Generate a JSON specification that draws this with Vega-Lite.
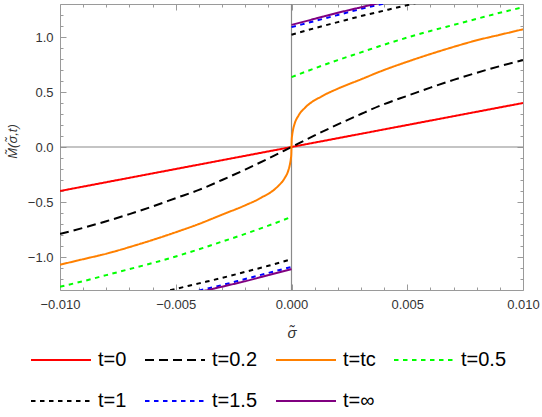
{
  "$schema": "https://vega.github.io/schema/vega-lite/v6.json",
  "width": 463,
  "height": 286,
  "autosize": {"type": "none"},
  "padding": {"left": 60, "top": 4, "right": 19, "bottom": 127},
  "config": {
    "font": "Liberation Sans",
    "view": {"stroke": null},
    "axis": {
      "grid": false,
      "domainColor": "#9a9a9a",
      "tickColor": "#9a9a9a",
      "labelColor": "#333333",
      "labelFontSize": 13,
      "labelFlush": false,
      "labelOverlap": false,
      "titleFontWeight": "normal",
      "titleColor": "#333333"
    }
  },
  "datasets": {
    "zero": [{"v": 0}],
    "curves": [
      {"t": "t=0", "b": "a", "x": -0.01, "y": -0.4},
      {"t": "t=0", "b": "a", "x": -0.005, "y": -0.2},
      {"t": "t=0", "b": "a", "x": 0, "y": 0},
      {"t": "t=0", "b": "a", "x": 0.005, "y": 0.2},
      {"t": "t=0", "b": "a", "x": 0.01, "y": 0.4},

      {"t": "t=0.2", "b": "a", "x": -0.01, "y": -0.79},
      {"t": "t=0.2", "b": "a", "x": -0.009, "y": -0.735},
      {"t": "t=0.2", "b": "a", "x": -0.008, "y": -0.675},
      {"t": "t=0.2", "b": "a", "x": -0.007, "y": -0.61},
      {"t": "t=0.2", "b": "a", "x": -0.006, "y": -0.54},
      {"t": "t=0.2", "b": "a", "x": -0.005, "y": -0.465},
      {"t": "t=0.2", "b": "a", "x": -0.004, "y": -0.39},
      {"t": "t=0.2", "b": "a", "x": -0.003, "y": -0.3},
      {"t": "t=0.2", "b": "a", "x": -0.002, "y": -0.205},
      {"t": "t=0.2", "b": "a", "x": -0.001, "y": -0.105},
      {"t": "t=0.2", "b": "a", "x": 0, "y": 0},
      {"t": "t=0.2", "b": "a", "x": 0.001, "y": 0.105},
      {"t": "t=0.2", "b": "a", "x": 0.002, "y": 0.205},
      {"t": "t=0.2", "b": "a", "x": 0.003, "y": 0.3},
      {"t": "t=0.2", "b": "a", "x": 0.004, "y": 0.39},
      {"t": "t=0.2", "b": "a", "x": 0.005, "y": 0.465},
      {"t": "t=0.2", "b": "a", "x": 0.006, "y": 0.54},
      {"t": "t=0.2", "b": "a", "x": 0.007, "y": 0.61},
      {"t": "t=0.2", "b": "a", "x": 0.008, "y": 0.675},
      {"t": "t=0.2", "b": "a", "x": 0.009, "y": 0.735},
      {"t": "t=0.2", "b": "a", "x": 0.01, "y": 0.79},

      {"t": "t=tc", "b": "a", "x": -0.01, "y": -1.07},
      {"t": "t=tc", "b": "a", "x": -0.009, "y": -1.02},
      {"t": "t=tc", "b": "a", "x": -0.008, "y": -0.97},
      {"t": "t=tc", "b": "a", "x": -0.007, "y": -0.91},
      {"t": "t=tc", "b": "a", "x": -0.006, "y": -0.845},
      {"t": "t=tc", "b": "a", "x": -0.005, "y": -0.775},
      {"t": "t=tc", "b": "a", "x": -0.004, "y": -0.7},
      {"t": "t=tc", "b": "a", "x": -0.003, "y": -0.615},
      {"t": "t=tc", "b": "a", "x": -0.002, "y": -0.53},
      {"t": "t=tc", "b": "a", "x": -0.0013, "y": -0.46},
      {"t": "t=tc", "b": "a", "x": -0.0006, "y": -0.36},
      {"t": "t=tc", "b": "a", "x": -0.0003, "y": -0.285},
      {"t": "t=tc", "b": "a", "x": -0.00014, "y": -0.215},
      {"t": "t=tc", "b": "a", "x": -0.00007, "y": -0.16},
      {"t": "t=tc", "b": "a", "x": -0.00003, "y": -0.11},
      {"t": "t=tc", "b": "a", "x": -0.00001, "y": -0.07},
      {"t": "t=tc", "b": "a", "x": 0, "y": 0},
      {"t": "t=tc", "b": "a", "x": 0.00001, "y": 0.07},
      {"t": "t=tc", "b": "a", "x": 0.00003, "y": 0.11},
      {"t": "t=tc", "b": "a", "x": 0.00007, "y": 0.16},
      {"t": "t=tc", "b": "a", "x": 0.00014, "y": 0.215},
      {"t": "t=tc", "b": "a", "x": 0.0003, "y": 0.285},
      {"t": "t=tc", "b": "a", "x": 0.0006, "y": 0.36},
      {"t": "t=tc", "b": "a", "x": 0.0013, "y": 0.46},
      {"t": "t=tc", "b": "a", "x": 0.002, "y": 0.53},
      {"t": "t=tc", "b": "a", "x": 0.003, "y": 0.615},
      {"t": "t=tc", "b": "a", "x": 0.004, "y": 0.7},
      {"t": "t=tc", "b": "a", "x": 0.005, "y": 0.775},
      {"t": "t=tc", "b": "a", "x": 0.006, "y": 0.845},
      {"t": "t=tc", "b": "a", "x": 0.007, "y": 0.91},
      {"t": "t=tc", "b": "a", "x": 0.008, "y": 0.97},
      {"t": "t=tc", "b": "a", "x": 0.009, "y": 1.02},
      {"t": "t=tc", "b": "a", "x": 0.01, "y": 1.07},

      {"t": "t=0.5", "b": "n", "x": -0.01, "y": -1.27},
      {"t": "t=0.5", "b": "n", "x": -0.009, "y": -1.22},
      {"t": "t=0.5", "b": "n", "x": -0.008, "y": -1.165},
      {"t": "t=0.5", "b": "n", "x": -0.007, "y": -1.11},
      {"t": "t=0.5", "b": "n", "x": -0.006, "y": -1.055},
      {"t": "t=0.5", "b": "n", "x": -0.005, "y": -0.995},
      {"t": "t=0.5", "b": "n", "x": -0.004, "y": -0.93},
      {"t": "t=0.5", "b": "n", "x": -0.003, "y": -0.86},
      {"t": "t=0.5", "b": "n", "x": -0.002, "y": -0.79},
      {"t": "t=0.5", "b": "n", "x": -0.001, "y": -0.715},
      {"t": "t=0.5", "b": "n", "x": 0, "y": -0.635},
      {"t": "t=0.5", "b": "p", "x": 0, "y": 0.635},
      {"t": "t=0.5", "b": "p", "x": 0.001, "y": 0.715},
      {"t": "t=0.5", "b": "p", "x": 0.002, "y": 0.79},
      {"t": "t=0.5", "b": "p", "x": 0.003, "y": 0.86},
      {"t": "t=0.5", "b": "p", "x": 0.004, "y": 0.93},
      {"t": "t=0.5", "b": "p", "x": 0.005, "y": 0.995},
      {"t": "t=0.5", "b": "p", "x": 0.006, "y": 1.055},
      {"t": "t=0.5", "b": "p", "x": 0.007, "y": 1.11},
      {"t": "t=0.5", "b": "p", "x": 0.008, "y": 1.165},
      {"t": "t=0.5", "b": "p", "x": 0.009, "y": 1.22},
      {"t": "t=0.5", "b": "p", "x": 0.01, "y": 1.27},

      {"t": "t=1", "b": "n", "x": -0.006, "y": -1.34},
      {"t": "t=1", "b": "n", "x": -0.005, "y": -1.29},
      {"t": "t=1", "b": "n", "x": -0.004, "y": -1.24},
      {"t": "t=1", "b": "n", "x": -0.003, "y": -1.19},
      {"t": "t=1", "b": "n", "x": -0.002, "y": -1.135},
      {"t": "t=1", "b": "n", "x": -0.001, "y": -1.08},
      {"t": "t=1", "b": "n", "x": 0, "y": -1.02},
      {"t": "t=1", "b": "p", "x": 0, "y": 1.02},
      {"t": "t=1", "b": "p", "x": 0.001, "y": 1.08},
      {"t": "t=1", "b": "p", "x": 0.002, "y": 1.135},
      {"t": "t=1", "b": "p", "x": 0.003, "y": 1.19},
      {"t": "t=1", "b": "p", "x": 0.004, "y": 1.24},
      {"t": "t=1", "b": "p", "x": 0.005, "y": 1.29},
      {"t": "t=1", "b": "p", "x": 0.006, "y": 1.34},

      {"t": "t=1.5", "b": "n", "x": -0.004, "y": -1.305},
      {"t": "t=1.5", "b": "n", "x": -0.003, "y": -1.255},
      {"t": "t=1.5", "b": "n", "x": -0.002, "y": -1.2},
      {"t": "t=1.5", "b": "n", "x": -0.001, "y": -1.145},
      {"t": "t=1.5", "b": "n", "x": 0, "y": -1.09},
      {"t": "t=1.5", "b": "p", "x": 0, "y": 1.09},
      {"t": "t=1.5", "b": "p", "x": 0.001, "y": 1.145},
      {"t": "t=1.5", "b": "p", "x": 0.002, "y": 1.2},
      {"t": "t=1.5", "b": "p", "x": 0.003, "y": 1.255},
      {"t": "t=1.5", "b": "p", "x": 0.004, "y": 1.305},

      {"t": "t=∞", "b": "n", "x": -0.004, "y": -1.32},
      {"t": "t=∞", "b": "n", "x": -0.003, "y": -1.27},
      {"t": "t=∞", "b": "n", "x": -0.002, "y": -1.22},
      {"t": "t=∞", "b": "n", "x": -0.001, "y": -1.165},
      {"t": "t=∞", "b": "n", "x": 0, "y": -1.11},
      {"t": "t=∞", "b": "p", "x": 0, "y": 1.11},
      {"t": "t=∞", "b": "p", "x": 0.001, "y": 1.165},
      {"t": "t=∞", "b": "p", "x": 0.002, "y": 1.22},
      {"t": "t=∞", "b": "p", "x": 0.003, "y": 1.27},
      {"t": "t=∞", "b": "p", "x": 0.004, "y": 1.32}
    ]
  },
  "layer": [
    {
      "data": {"name": "zero"},
      "mark": {"type": "rule", "color": "#8a8a8a", "strokeWidth": 1.2},
      "encoding": {
        "x": {
          "field": "v", "type": "quantitative",
          "scale": {"domain": [-0.01, 0.01], "nice": false, "zero": false},
          "axis": {"orient": "top", "title": null, "labels": false, "values": [-0.01, -0.005, 0, 0.005, 0.01], "tickSize": -6}
        }
      }
    },
    {
      "data": {"name": "zero"},
      "mark": {"type": "rule", "color": "#8a8a8a", "strokeWidth": 1.2},
      "encoding": {
        "y": {
          "field": "v", "type": "quantitative",
          "scale": {"domain": [-1.3, 1.3], "nice": false, "zero": false},
          "axis": {"orient": "right", "title": null, "labels": false, "values": [-1, -0.5, 0, 0.5, 1], "tickSize": -6}
        }
      }
    },
    {
      "data": {"name": "zero"},
      "mark": {"type": "point", "opacity": 0},
      "encoding": {
        "x": {
          "field": "v", "type": "quantitative",
          "scale": {"domain": [-0.01, 0.01], "nice": false, "zero": false},
          "axis": {"orient": "bottom", "title": null, "labels": false, "values": [-0.01, -0.005, 0, 0.005, 0.01], "tickSize": -6}
        },
        "y": {
          "field": "v", "type": "quantitative",
          "scale": {"domain": [-1.3, 1.3], "nice": false, "zero": false},
          "axis": {"orient": "left", "title": null, "labels": false, "values": [-1, -0.5, 0, 0.5, 1], "tickSize": -6}
        }
      }
    },
    {
      "data": {"name": "zero"},
      "mark": {"type": "point", "opacity": 0},
      "encoding": {
        "x": {
          "field": "v", "type": "quantitative",
          "scale": {"domain": [-0.01, 0.01], "nice": false, "zero": false},
          "axis": {"orient": "bottom", "title": null, "labels": false, "domain": false, "tickSize": -3,
            "values": [-0.009,-0.008,-0.007,-0.006,-0.004,-0.003,-0.002,-0.001,0.001,0.002,0.003,0.004,0.006,0.007,0.008,0.009]}
        },
        "y": {
          "field": "v", "type": "quantitative",
          "scale": {"domain": [-1.3, 1.3], "nice": false, "zero": false},
          "axis": {"orient": "left", "title": null, "labels": false, "domain": false, "tickSize": -3,
            "values": [-1.2,-1.1,-0.9,-0.8,-0.7,-0.6,-0.4,-0.3,-0.2,-0.1,0.1,0.2,0.3,0.4,0.6,0.7,0.8,0.9,1.1,1.2]}
        }
      }
    },
    {
      "data": {"name": "zero"},
      "mark": {"type": "point", "opacity": 0},
      "encoding": {
        "x": {
          "field": "v", "type": "quantitative",
          "scale": {"domain": [-0.01, 0.01], "nice": false, "zero": false},
          "axis": {"orient": "top", "title": null, "labels": false, "domain": false, "tickSize": -3,
            "values": [-0.009,-0.008,-0.007,-0.006,-0.004,-0.003,-0.002,-0.001,0.001,0.002,0.003,0.004,0.006,0.007,0.008,0.009]}
        },
        "y": {
          "field": "v", "type": "quantitative",
          "scale": {"domain": [-1.3, 1.3], "nice": false, "zero": false},
          "axis": {"orient": "right", "title": null, "labels": false, "domain": false, "tickSize": -3,
            "values": [-1.2,-1.1,-0.9,-0.8,-0.7,-0.6,-0.4,-0.3,-0.2,-0.1,0.1,0.2,0.3,0.4,0.6,0.7,0.8,0.9,1.1,1.2]}
        }
      }
    },
    {
      "data": {"name": "curves"},
      "mark": {"type": "line", "clip": true, "strokeWidth": 2, "interpolate": "monotone"},
      "encoding": {
        "x": {
          "field": "x", "type": "quantitative",
          "scale": {"domain": [-0.01, 0.01], "nice": false, "zero": false},
          "axis": {
            "orient": "bottom", "ticks": false, "domain": false,
            "title": "σ̃", "titleFontSize": 15, "titleFontStyle": "italic", "titlePadding": 14,
            "values": [-0.01, -0.005, 0, 0.005, 0.01], "format": ".3f",
            "labelPadding": 8
          }
        },
        "y": {
          "field": "y", "type": "quantitative",
          "scale": {"domain": [-1.3, 1.3], "nice": false, "zero": false},
          "axis": {
            "orient": "left", "ticks": false, "domain": false,
            "title": "M̃(σ̃,t)", "titleFontSize": 13, "titleFontStyle": "italic", "titlePadding": 8, "titleY": 137,
            "values": [-1, -0.5, 0, 0.5, 1], "format": ".1f",
            "labelPadding": 7
          }
        },
        "detail": {"field": "b"},
        "color": {
          "field": "t", "type": "nominal",
          "scale": {
            "domain": ["t=0", "t=0.2", "t=tc", "t=0.5", "t=1", "t=1.5", "t=∞"],
            "range": ["#ff0000", "#000000", "#ff8000", "#00ff00", "#000000", "#0000ff", "#800080"]
          },
          "legend": {
            "orient": "none", "legendX": -30, "legendY": 325, "direction": "horizontal", "columns": 4,
            "title": null, "symbolType": "stroke", "symbolSize": 3600, "symbolStrokeWidth": 2,
            "labelFontSize": 20, "labelColor": "#000000", "labelOffset": 6, "columnPadding": 14, "rowPadding": -45
          }
        },
        "strokeDash": {
          "field": "t", "type": "nominal",
          "scale": {
            "domain": ["t=0", "t=0.2", "t=tc", "t=0.5", "t=1", "t=1.5", "t=∞"],
            "range": [[1, 0], [9, 5], [1, 0], [4.5, 4.5], [4.5, 4.5], [4.5, 4.5], [1, 0]]
          },
          "legend": {
            "orient": "none", "legendX": -30, "legendY": 325, "direction": "horizontal", "columns": 4,
            "title": null, "symbolType": "stroke", "symbolSize": 3600, "symbolStrokeWidth": 2,
            "labelFontSize": 20, "labelColor": "#000000", "labelOffset": 6, "columnPadding": 14, "rowPadding": -45
          }
        }
      }
    }
  ],
  "resolve": {"axis": {"x": "independent", "y": "independent"}}
}
